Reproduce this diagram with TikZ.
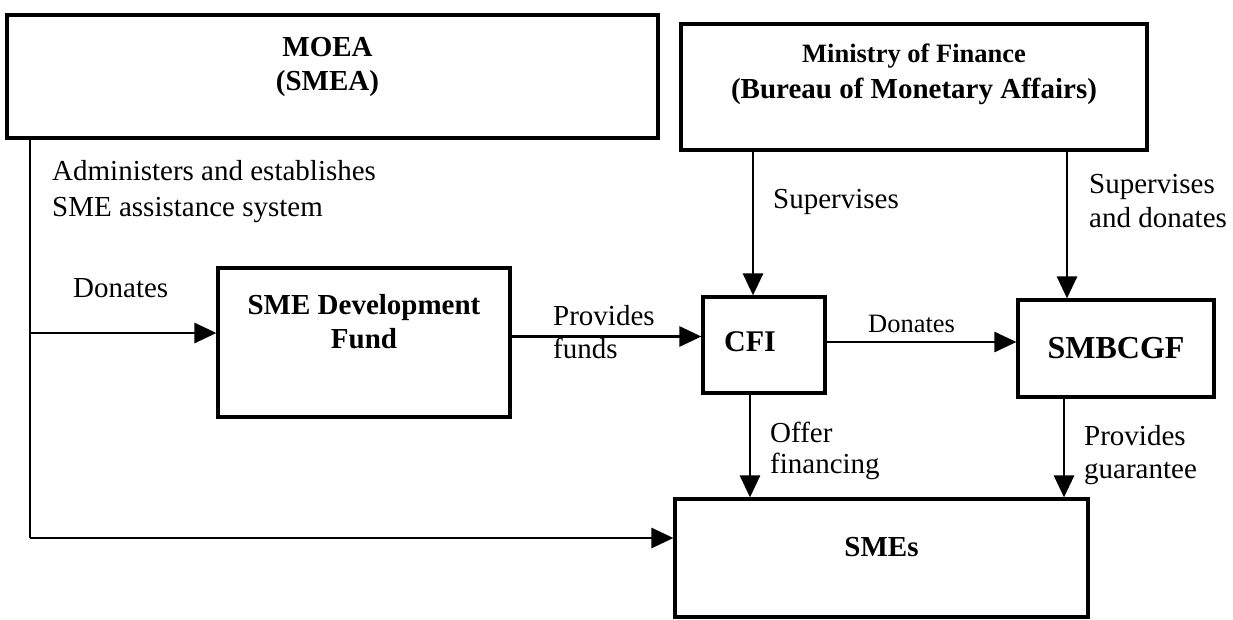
\documentclass[tikz,border=0pt]{standalone}
\usepackage{fontspec}
\setmainfont{Liberation Serif}
\usepackage{tikz}
\usepackage{xcolor}
\usetikzlibrary{calc,arrows.meta}
\newcommand{\BoxSize}[1]{\fontsize{#1}{34}\selectfont}

\begin{document}
\begin{tikzpicture}[x=1pt,y=-1pt,
  orgbox/.style={draw,line width=3.2pt,inner sep=0pt},
  boxtext/.style={font=\bfseries\BoxSize{29},align=center,inner sep=0pt},
  flowtext/.style={font=\fontsize{29}{34}\selectfont,align=left,inner sep=0pt,anchor=base west},
  flow/.style={line width=2.8pt,-{Triangle[length=22pt,width=20pt]}}]
\useasboundingbox (0,0) rectangle (1233,619);
\node[orgbox,minimum width=651pt,minimum height=123pt,label={[boxtext,name=moeatxt,xshift=-5pt,yshift=9.5pt]center:MOEA\\(SMEA)}] (moea) at (332.5,76.5) {};
\node[orgbox,minimum width=466pt,minimum height=126pt,label={[boxtext,name=moftxt,yshift=12.5pt]center:{\BoxSize{26.5}Ministry of Finance}\\[2pt](Bureau of Monetary Affairs)}] (mof) at (914,87) {};
\node[orgbox,minimum width=292pt,minimum height=149pt,label={[boxtext,name=fundtxt,yshift=21pt]center:SME Development\\Fund}] (fund) at (364,342.5) {};
\node[orgbox,minimum width=122pt,minimum height=96pt,label={[boxtext,name=cfitxt,font=\bfseries\BoxSize{30},xshift=-14pt,yshift=3pt]center:CFI}] (cfi) at (764,345) {};
\node[orgbox,minimum width=196pt,minimum height=97pt,label={[boxtext,name=guartxt,font=\bfseries\BoxSize{32}]center:SMBCGF}] (smbcgf) at (1116,348.5) {};
\node[orgbox,minimum width=413pt,minimum height=118pt,label={[boxtext,name=smestxt,yshift=11pt]center:SMEs}] (smes) at (881.5,558) {};

\coordinate (corner) at (30,538);
\coordinate (fundin) at ([yshift=9.5pt]fund.west);
\coordinate (fundout) at ([yshift=6pt]fund.east);
\coordinate (cfiin) at ([xshift=-11pt]cfi.north);
\coordinate (cfiout) at ([yshift=3pt]cfi.east);
\coordinate (cfidown) at ([xshift=-14pt]cfi.south);
\coordinate (guarin) at ([xshift=-49pt]smbcgf.north);
\coordinate (guardown) at ([xshift=-52pt]smbcgf.south);

\draw[line width=2.8pt] (moea.south -| corner) -- (corner);
\draw[flow] (corner) -- (corner -| smes.west);
\draw[flow] (corner |- fundin) -- (fundin);
\draw[flow] (fundout) -- (fundout -| cfi.west);
\draw[flow] (cfiin |- mof.south) -- (cfiin);
\draw[flow] (guarin |- mof.south) -- (guarin);
\draw[flow] (cfiout) -- (cfiout -| smbcgf.west);
\draw[flow] (cfidown) -- (cfidown |- smes.north);
\draw[flow] (guardown) -- (guardown |- smes.north);

\node[flowtext] (adminlbl) at (52,216) {Administers and establishes\\[2pt]SME assistance system};
\node[flowtext] (donatelbl) at (73,297) {Donates};
\node[flowtext] (fundslbl) at (553,358) {Provides\\[-1pt]funds};
\node[flowtext] (superlbl) at (773,208) {Supervises};
\node[flowtext] (superdonlbl) at (1089,227) {Supervises\\and donates};
\node[flowtext,font=\fontsize{26.5}{30}\selectfont] (cfidonlbl) at (868,332) {Donates};
\node[flowtext] (offerlbl) at (770,473) {Offer\\[-3pt]financing};
\node[flowtext] (guarlbl) at (1084,478) {Provides\\[-1pt]guarantee};
\end{tikzpicture}
\end{document}
